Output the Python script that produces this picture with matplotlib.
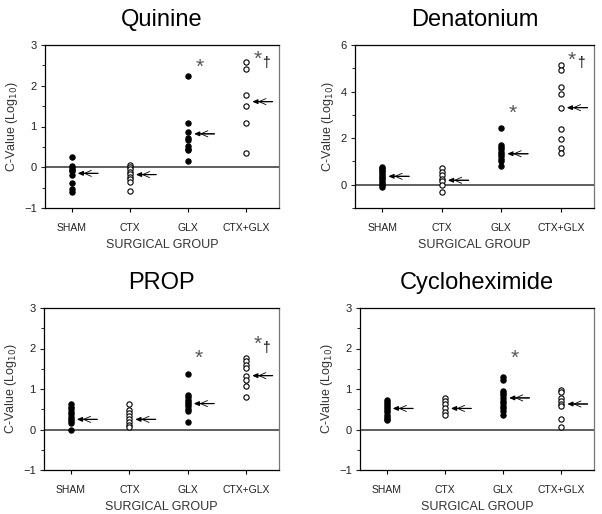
import matplotlib
matplotlib.use("Agg")
import matplotlib.pyplot as plt
from matplotlib.ticker import MultipleLocator

plt.rcParams["font.family"] = ["Liberation Sans", "DejaVu Sans"]

groups = ["SHAM", "CTX", "GLX", "CTX+GLX"]
filled = [True, False, True, False]

# Quinine
quinine = [
    [0.25, 0.03, -0.02, -0.06, -0.1, -0.2, -0.38, -0.54, -0.6],
    [0.05, 0.0, -0.05, -0.12, -0.17, -0.23, -0.3, -0.35, -0.58],
    [2.24, 1.08, 0.86, 0.71, 0.67, 0.52, 0.46, 0.42, 0.15],
    [2.59, 2.4, 1.77, 1.5, 1.09, 0.35],
]
quinine_mean = [-0.15, -0.18, 0.82, 1.61]

# Denatonium
denatonium = [
    [0.78, 0.72, 0.65, 0.58, 0.5, 0.42, 0.35, 0.28, 0.2, 0.12, 0.05, -0.02, -0.08],
    [0.72, 0.56, 0.4, 0.25, 0.14, 0.0, -0.33],
    [2.44, 1.72, 1.62, 1.52, 1.42, 1.32, 1.22, 1.12, 1.02, 0.82],
    [5.13, 4.94, 4.2, 3.88, 3.28, 2.39, 1.96, 1.59, 1.38],
]
denatonium_mean = [0.36, 0.19, 1.33, 3.31]

# PROP
prop = [
    [0.62, 0.56, 0.5, 0.44, 0.38, 0.32, 0.26, 0.2, 0.15, 0.0],
    [0.64, 0.47, 0.41, 0.34, 0.26, 0.19, 0.12, 0.06],
    [1.37, 0.85, 0.8, 0.74, 0.68, 0.63, 0.57, 0.51, 0.45, 0.19],
    [1.77, 1.68, 1.59, 1.52, 1.33, 1.21, 1.08, 0.8],
]
prop_mean = [0.25, 0.25, 0.64, 1.33]

# Cycloheximide
cyclo = [
    [0.72, 0.67, 0.62, 0.57, 0.52, 0.47, 0.42, 0.37, 0.32, 0.27, 0.24],
    [0.79, 0.7, 0.62, 0.52, 0.44, 0.36],
    [1.3, 1.22, 0.95, 0.9, 0.85, 0.78, 0.71, 0.65, 0.59, 0.53, 0.46, 0.37],
    [0.98, 0.93, 0.77, 0.7, 0.63, 0.57, 0.26, 0.05],
]
cyclo_mean = [0.52, 0.52, 0.78, 0.63]

# (title, values, means, ylim, major, minor, marks{group: (dagger?, y)}, axes box px)
panels = [
    ("Quinine", quinine, quinine_mean, (-1, 3), 1, 0.5,
     {2: (False, 2.45), 3: (True, 2.65)}, (45, 45, 279, 208)),
    ("Denatonium", denatonium, denatonium_mean, (-1, 6), 2, 1,
     {2: (False, 3.05), 3: (True, 5.35)}, (355, 45, 594, 208)),
    ("PROP", prop, prop_mean, (-1, 3), 1, 0.5,
     {2: (False, 1.75), 3: (True, 2.1)}, (44, 308, 279, 470)),
    ("Cycloheximide", cyclo, cyclo_mean, (-1, 3), 1, 0.5,
     {2: (False, 1.75)}, (360, 308, 594, 470)),
]

W, H = 602, 514
fig = plt.figure(figsize=(W / 100, H / 100), dpi=100)

for title, values, means, ylim, major, minor, marks, (l, t, r, b) in panels:
    ax = fig.add_axes([l / W, (H - b) / H, (r - l) / W, (b - t) / H])
    xs = range(1, len(groups) + 1)
    for x, vals, full, m in zip(xs, values, filled, means):
        ax.plot([x] * len(vals), vals, "o", ms=3.8, mew=0.8,
                mec="black", mfc="black" if full else "white", ls="none", zorder=3)
        # mean arrow: filled head plus an open double barb behind it
        ax.annotate("", xy=(x + 0.1, m), xytext=(x + 0.45, m),
                    arrowprops=dict(arrowstyle="-|>,head_length=0.3,head_width=0.13",
                                    color="black", lw=0.9, shrinkA=0, shrinkB=0))
        ax.annotate("", xy=(x + 0.2, m), xytext=(x + 0.45, m),
                    arrowprops=dict(arrowstyle="->,head_length=0.5,head_width=0.22",
                                    color="black", lw=0.6, shrinkA=0, shrinkB=0))
    for g, (dagger, y) in marks.items():
        ax.text(g + 1 + 0.12, y, "*", fontsize=15, color="#555555",
                ha="left", va="center")
        if dagger:
            ax.text(g + 1 + 0.27, y - 0.02 * (ylim[1] - ylim[0]), "\u2020",
                    fontsize=10, color="black", ha="left", va="center")
    ax.axhline(0, color="#333333", lw=1.1, zorder=1)
    ax.set_xlim(0.54, 4.56)
    ax.set_ylim(*ylim)
    ax.set_xticks(list(xs))
    ax.set_xticklabels(groups, fontsize=7.5, color="#222222")
    ax.yaxis.set_major_locator(MultipleLocator(major))
    ax.yaxis.set_minor_locator(MultipleLocator(minor))
    ax.tick_params(axis="y", labelsize=8, colors="#222222", length=3, pad=3)
    ax.tick_params(axis="y", which="minor", length=2)
    ax.tick_params(axis="x", length=3, pad=8)
    for s in ax.spines.values():
        s.set_linewidth(0.9)
    ax.spines["right"].set_color("#777777")
    ax.set_title(title, fontsize=17, pad=14)
    ax.set_xlabel("SURGICAL GROUP", fontsize=9, color="#333333", labelpad=4)
    ax.set_ylabel("C-Value (Log$_{10}$)", fontsize=9, color="#333333", labelpad=3)

fig.savefig("out.png", dpi=100)
